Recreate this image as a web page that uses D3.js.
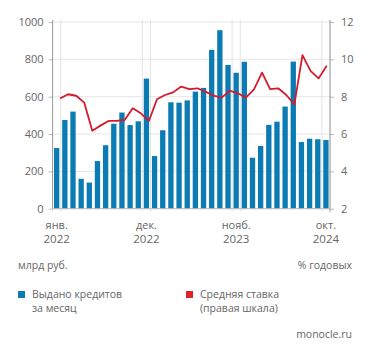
<!DOCTYPE html>
<html><head><meta charset="utf-8">
<script src="https://cdn.jsdelivr.net/npm/d3@7"></script>
<style>
html,body{margin:0;padding:0;background:#fff;}
svg text{font-family:"Open Sans",sans-serif;fill:#666;}
</style></head>
<body><svg id="c" width="371" height="357"></svg>
<script>
const months = ["2022-01","2022-02","2022-03","2022-04","2022-05","2022-06","2022-07","2022-08","2022-09","2022-10","2022-11","2022-12",
"2023-01","2023-02","2023-03","2023-04","2023-05","2023-06","2023-07","2023-08","2023-09","2023-10","2023-11","2023-12",
"2024-01","2024-02","2024-03","2024-04","2024-05","2024-06","2024-07","2024-08","2024-09","2024-10"];
const loans = [325,475,520,160,140,255,340,455,515,448,468,697,282,420,570,568,580,627,647,851,956,770,728,787,273,336,449,466,547,788,357,375,372,368];
const rates = [7.9,8.13,8.05,7.68,6.18,6.45,6.7,6.7,6.75,7.38,7.11,6.7,7.86,8.09,8.23,8.54,8.41,8.45,8.27,8.05,7.95,8.32,8.18,7.95,8.39,9.29,8.41,8.45,8.09,7.59,10.23,9.38,8.98,9.66];
const leftTicks = [0,200,400,600,800,1000];
const rightTicks = [2,4,6,8,10,12];
const labeledMonths = ["2022-01","2022-12","2023-11","2024-10"];
const monthLabels = ["янв.","дек.","нояб.","окт."];
const yearLabels = ["2022","2022","2023","2024"];
const legendLabels = [["Выдано кредитов","за месяц"],["Средняя ставка","(правая шкала)"]];

const svg = d3.select("#c");
const X0=52.6, X1=330, YT=22, YB=208.7;
const blue="#0a7bb3", red="#d7192d";
const x = d3.scaleBand().domain(months).range([X0,X1]).paddingInner(0.35).paddingOuter(0.175);
const xl = d3.scalePoint().domain(months).range([60,326.7]);
const yL = d3.scaleLinear().domain([0,1000]).range([YB,YT]);
const yR = d3.scaleLinear().domain([2,12]).range([YB,YT]);

// horizontal grid
svg.append("g").selectAll("line").data(leftTicks).join("line")
  .attr("x1",X0).attr("x2",X1).attr("y1",d=>yL(d)).attr("y2",d=>yL(d))
  .attr("stroke","#e6e6e6").attr("stroke-width",1);
// vertical grid at labelled month edges
const half = x.step()*x.paddingInner()/2;
const edges = [];
labeledMonths.forEach(m=>{edges.push(x(m)-half); edges.push(x(m)+x.bandwidth()+half);});
svg.append("g").selectAll("line").data(edges).join("line")
  .attr("x1",d=>d).attr("x2",d=>d).attr("y1",YT-2).attr("y2",YB+3)
  .attr("stroke","#e3e3e3").attr("stroke-width",1);

// bars
svg.append("g").selectAll("rect").data(months).join("rect")
  .attr("x",d=>x(d)).attr("width",x.bandwidth())
  .attr("y",(d,i)=>yL(loans[i])).attr("height",(d,i)=>YB-yL(loans[i]))
  .attr("fill",blue);

// line
svg.append("path").datum(months)
  .attr("d",d3.line().x(d=>xl(d)).y((d,i)=>yR(rates[i])))
  .attr("fill","none").attr("stroke",red).attr("stroke-width",1.8).attr("stroke-linejoin","round");

// axes
const gl = svg.append("g").attr("transform",`translate(${X0},0)`)
  .call(d3.axisLeft(yL).tickValues(leftTicks).tickFormat(d3.format("d")).tickSize(4).tickPadding(5));
const gr = svg.append("g").attr("transform",`translate(${X1},0)`)
  .call(d3.axisRight(yR).tickValues(rightTicks).tickFormat(d3.format("d")).tickSize(4).tickPadding(7));
[gl,gr].forEach(g=>{
  g.selectAll(".tick line").attr("stroke","#bbb");
  g.selectAll("text").attr("font-size",11).attr("fill","#666").style("font-family","'Open Sans',sans-serif");
});
gl.select(".domain").remove(); gr.select(".domain").remove();
svg.append("line").attr("x1",X0).attr("x2",X0).attr("y1",YT-2).attr("y2",YB).attr("stroke","#9a9a9a");
svg.append("line").attr("x1",X1).attr("x2",X1).attr("y1",YT-2).attr("y2",YB+3).attr("stroke","#9a9a9a");
svg.append("line").attr("x1",X0).attr("x2",X1).attr("y1",YB).attr("y2",YB).attr("stroke","#bbb");

// x labels
const xlab = svg.append("g").selectAll("g").data(labeledMonths).join("g")
  .attr("transform",d=>`translate(${x(d)+x.bandwidth()/2},0)`);
xlab.append("text").attr("y",229).attr("text-anchor","middle").attr("font-size",11).text((d,i)=>monthLabels[i]);
xlab.append("text").attr("y",243).attr("text-anchor","middle").attr("font-size",11.5).text((d,i)=>yearLabels[i]);

// units
svg.append("text").attr("x",18).attr("y",269).attr("font-size",10.5).text("млрд руб.");
svg.append("text").attr("x",352).attr("y",269).attr("font-size",10.5).attr("text-anchor","end").text("% годовых");

// legend
const leg = svg.append("g").selectAll("g").data(legendLabels).join("g")
  .attr("transform",(d,i)=>`translate(${i?186:18},0)`);
leg.append("rect").attr("x",0).attr("y",291).attr("width",7).attr("height",7).attr("fill",(d,i)=>i?"#e0202a":blue);
leg.append("text").attr("x",14).attr("y",297.5).attr("font-size",10.5).text(d=>d[0]);
leg.append("text").attr("x",14).attr("y",311.5).attr("font-size",10.5).text(d=>d[1]);

svg.append("text").attr("x",352).attr("y",338).attr("font-size",10.5).attr("text-anchor","end").text("monocle.ru");
</script></body></html>
